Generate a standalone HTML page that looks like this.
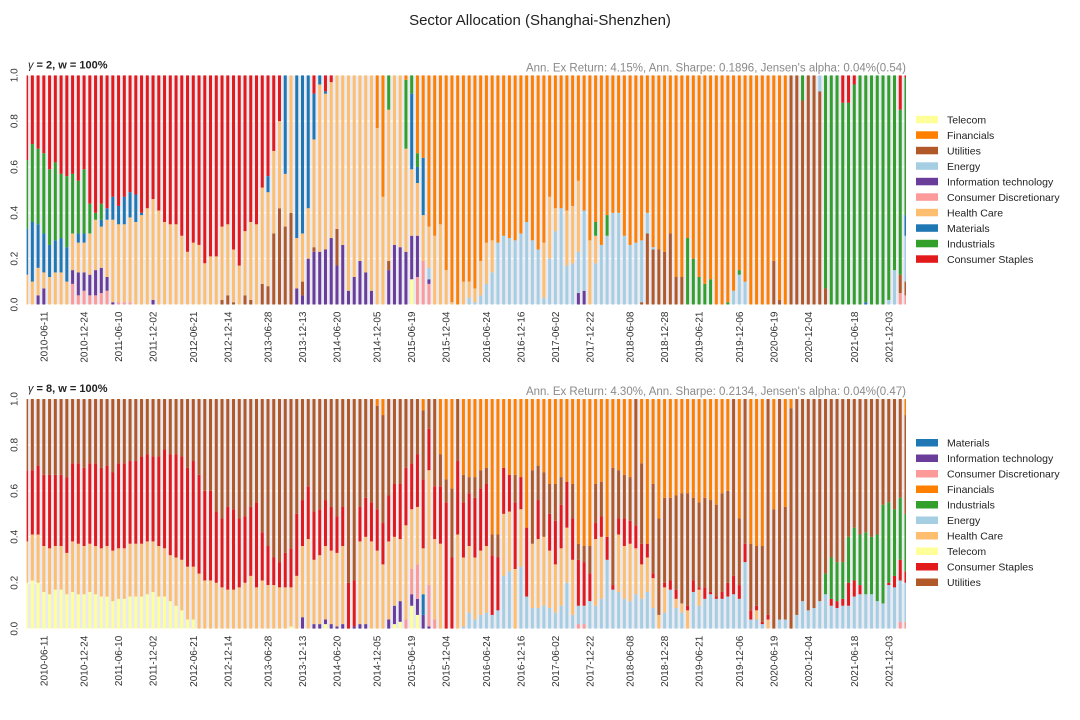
<!DOCTYPE html>
<html><head><meta charset="utf-8">
<style>
html,body{margin:0;padding:0;background:#fff;}
svg{display:block;font-family:"Liberation Sans",Arial,sans-serif;}
</style></head>
<body>
<svg id="fig" width="1080" height="720" viewBox="0 0 1080 720" xmlns="http://www.w3.org/2000/svg">
<text x="540" y="25" text-anchor="middle" font-size="15" fill="#222">Sector Allocation (Shanghai-Shenzhen)</text>
<g id="p1"></g>
<g id="p2"></g>
</svg>
<script>
// ---------- categories / ticks ----------
const tickIdx = [3,10,16,22,29,35,42,48,54,61,67,73,80,86,92,98,105,111,117,124,130,136,144,150];
const tickLabels = ["2010-06-11","2010-12-24","2011-06-10","2011-12-02","2012-06-21","2012-12-14","2013-06-28","2013-12-13","2014-06-20","2014-12-05","2015-06-19","2015-12-04","2016-06-24","2016-12-16","2017-06-02","2017-12-22","2018-06-08","2018-12-28","2019-06-21","2019-12-06","2020-06-19","2020-12-04","2021-06-18","2021-12-03"];
const yTicks = [0,0.2,0.4,0.6,0.8,1.0];
const yTickLabels = ["0.0","0.2","0.4","0.6","0.8","1.0"];
const sectorNames = ["Telecom","Financials","Utilities","Energy","Information technology","Consumer Discretionary","Health Care","Materials","Industrials","Consumer Staples"];
const sectorColors = ["#ffff99","#ff7f00","#b15928","#a6cee3","#6a3d9a","#fb9a99","#fdbf6f","#1f78b4","#33a02c","#e31a1c"];
const legend1 = ["Telecom","Financials","Utilities","Energy","Information technology","Consumer Discretionary","Health Care","Materials","Industrials","Consumer Staples"];
const legend2 = ["Materials","Information technology","Consumer Discretionary","Financials","Industrials","Energy","Health Care","Telecom","Consumer Staples","Utilities"];
const stack1 = ["Telecom","Consumer Discretionary","Information technology","Utilities","Energy","Health Care","Materials","Industrials","Consumer Staples","Financials"];
const stack2 = ["Telecom","Information technology","Consumer Discretionary","Materials","Energy","Health Care","Consumer Staples","Industrials","Utilities","Financials"];

// ---------- gamma = 2 weights (percent), 154 periods ----------
const g2_CS = [37,30,32,34,41,38,43,44,43,46, 41,56,60,56,58,53,57,53,51,52, 60,58,54,59,64,65,65,70,77,73, 74,82,79,79,66,65,76,83,68,64, 65,49,44,33,20,0,0,0,0,0, 8,0,7,3,0,0,0,0,0,0, 0,0,0,0,0,0,0,0,0,0, 0,0,0,0,0,0,0,0,0,0, 0,0,0,0,0,0,0,0,0,0, 0,0,0,0,0,0,0,0,0,0, 0,0,0,0,0,0,0,0,0,0, 0,0,0,0,0,0,0,0,0,0, 0,0,0,0,0,0,0,0,0,0, 0,0,0,0,0,0,0,0,0,0, 0,0,12,12,4,0,0,0,0,0, 0,0,15,1];
const g2_I = [30,34,33,35,33,34,28,31,26,23, 28,13,3,7,0,0,0,0,0,0, 0,0,0,0,0,0,0,0,0,0, 0,0,0,0,0,0,0,0,0,0, 0,0,0,0,0,0,0,0,0,0, 0,0,0,0,0,0,0,0,0,0, 0,0,0,15,0,0,30,8,6,0, 0,0,0,0,0,0,0,0,0,0, 0,0,0,0,0,0,0,0,0,0, 0,0,0,0,0,0,0,0,0,6, 0,9,0,0,0,0,0,0,0,0, 0,0,0,0,0,29,20,12,9,11, 0,0,1,0,2,0,0,0,0,0, 0,0,0,0,0,11,0,0,0,93, 100,100,88,88,96,100,99,100,100,100, 98,85,72,60];
const g2_M = [20,26,19,17,14,14,15,15,0,4, 4,0,0,3,5,10,8,12,11,12, 1,0,0,0,0,0,0,0,0,0, 0,0,0,0,0,0,0,0,0,0, 0,0,7,0,0,43,0,71,69,58, 20,4,1,0,0,0,0,0,0,0, 0,0,0,0,0,0,0,33,7,25, 0,0,0,0,0,0,0,0,0,0, 0,0,0,0,0,0,0,0,0,0, 0,0,0,0,0,0,0,0,0,0, 0,0,0,0,0,0,0,0,0,0, 0,0,0,0,0,0,0,0,0,0, 0,0,0,0,0,0,0,0,0,0, 0,0,0,0,0,0,0,0,0,0, 0,0,0,0,0,0,1,0,0,0, 0,0,0,9];
const g2_HC = [13,10,12,7,12,14,14,10,16,13, 13,18,22,18,25,36,34,34,37,36, 39,42,44,41,36,35,35,30,23,27, 26,18,21,21,32,31,23,17,28,34, 35,42,41,36,38,23,60,22,21,22, 47,73,68,68,67,74,94,88,81,86, 94,77,47,66,74,75,45,29,23,20, 18,30,35,15,1,0,10,7,6,15, 18,14,0,0,0,0,0,0,0,0, 24,27,10,0,24,25,31,0,28,12, 0,0,0,0,0,0,0,0,0,0, 0,0,0,0,0,0,0,0,0,0, 0,0,0,0,0,0,0,0,0,0, 0,0,0,0,0,0,0,0,0,0, 0,0,0,0,0,0,0,0,0,0, 0,0,0,0];
const g2_IT = [0,0,4,7,0,0,0,0,6,10, 8,9,11,11,6,1,0,0,0,0, 0,0,2,0,0,0,0,0,0,0, 0,0,0,0,0,0,0,0,0,0, 0,0,0,0,0,0,0,7,4,20, 23,23,24,29,17,26,6,12,19,14, 6,0,0,15,26,25,23,19,18,0, 2,0,0,0,0,0,0,0,0,0, 0,0,0,0,0,0,0,0,0,0, 0,0,0,0,0,0,5,6,0,0, 0,0,0,0,0,0,0,0,0,0, 0,0,0,0,0,0,0,0,0,0, 0,0,0,0,0,0,0,0,0,0, 0,0,0,0,0,0,0,0,0,0, 0,0,0,0,0,0,0,0,0,0, 0,0,0,0];
const g2_CD = [0,0,0,0,0,0,0,0,9,4, 6,4,4,5,6,0,1,1,1,0, 0,0,0,0,0,0,0,0,0,0, 0,0,0,0,0,0,0,0,0,0, 0,0,0,0,0,0,0,0,0,0, 0,0,0,0,0,0,0,0,0,0, 0,0,0,0,0,0,0,0,12,19, 9,0,0,0,0,0,0,0,0,0, 0,0,0,0,0,0,0,0,0,0, 0,0,0,0,0,0,0,0,0,0, 0,0,0,0,0,0,0,0,0,0, 0,0,0,0,0,0,0,0,0,0, 0,0,0,0,0,0,0,0,0,0, 0,0,0,0,0,0,0,0,0,0, 0,0,0,0,0,0,0,0,0,0, 0,0,5,4];
const g2_U = [0,0,0,0,0,0,0,0,0,0, 0,0,0,0,0,0,0,0,0,0, 0,0,0,0,0,0,0,0,0,0, 0,0,0,0,2,4,1,0,4,2, 0,9,8,31,42,34,40,0,6,0, 2,0,0,0,16,0,0,0,0,0, 0,0,0,4,0,0,0,0,0,0, 0,0,0,0,0,0,0,0,0,0, 0,0,0,0,0,0,0,0,0,0, 0,0,0,0,0,0,0,0,0,0, 0,0,0,0,0,0,0,1,31,24, 24,23,31,12,12,0,0,0,0,0, 0,0,0,0,0,0,0,0,0,0, 19,2,0,100,100,89,100,100,93,7, 0,0,0,0,0,0,0,0,0,0, 0,0,8,6];
const g2_E = [0,0,0,0,0,0,0,0,0,0, 0,0,0,0,0,0,0,0,0,0, 0,0,0,0,0,0,0,0,0,0, 0,0,0,0,0,0,0,0,0,0, 0,0,0,0,0,0,0,0,0,0, 0,0,0,0,0,0,0,0,0,0, 0,0,0,0,0,0,0,0,0,0, 5,0,0,0,0,0,0,3,1,4, 9,14,27,30,29,28,31,36,28,24, 3,20,32,42,17,18,18,35,0,18, 26,30,40,40,30,26,27,27,9,1, 0,0,0,0,0,0,0,0,0,0, 0,0,0,6,13,10,0,0,0,0, 0,0,0,0,0,0,0,0,7,0, 0,0,0,0,0,0,0,0,0,0, 2,15,0,20];
const g2_F = [0,0,0,0,0,0,0,0,0,0, 0,0,0,0,0,0,0,0,0,0, 0,0,0,0,0,0,0,0,0,0, 0,0,0,0,0,0,0,0,0,0, 0,0,0,0,0,0,0,0,0,0, 0,0,0,0,0,0,0,0,0,0, 0,23,53,0,0,0,2,0,34,36, 66,70,65,85,99,100,90,90,93,81, 73,72,73,70,71,72,69,64,72,76, 73,53,58,58,59,57,46,59,72,64, 74,61,60,60,70,74,73,72,60,75, 76,77,69,88,88,71,80,88,91,89, 100,100,99,94,85,90,100,100,100,100, 81,98,100,0,0,0,0,0,0,0, 0,0,0,0,0,0,0,0,0,0, 0,0,0,0];
const g2_T = [0,0,0,0,0,0,0,0,0,0, 0,0,0,0,0,0,0,0,0,0, 0,0,0,0,0,0,0,0,0,0, 0,0,0,0,0,0,0,0,0,0, 0,0,0,0,0,0,0,0,0,0, 0,0,0,0,0,0,0,0,0,0, 0,0,0,0,0,0,0,11,0,0, 0,0,0,0,0,0,0,0,0,0, 0,0,0,0,0,0,0,0,0,0, 0,0,0,0,0,0,0,0,0,0, 0,0,0,0,0,0,0,0,0,0, 0,0,0,0,0,0,0,0,0,0, 0,0,0,0,0,0,0,0,0,0, 0,0,0,0,0,0,0,0,0,0, 0,0,0,0,0,0,0,0,0,0, 0,0,0,0];

// ---------- gamma = 8 weights (percent), 154 periods ----------
const g8_CS = [31,28,30,31,32,31,31,33,34,35, 34,35,36,35,35,34,37,37,36,36, 38,38,37,39,43,44,45,45,43,46, 43,39,39,31,30,36,35,30,29,30, 37,21,17,12,11,15,17,27,20,23, 21,20,20,19,16,17,20,20,15,17, 17,18,18,20,23,24,25,20,23,30, 18,23,25,55,31,32,24,23,26,27, 27,26,23,20,16,29,14,30,0,17, 0,16,19,19,20,18,20,19,12,7, 9,10,2,7,12,10,10,9,6,2, 0,2,4,4,0,2,5,1,5,1, 1,3,6,8,6,8,4,2,1,2, 0,0,0,0,0,0,0,0,0,0, 3,3,3,10,7,4,0,0,0,0, 1,5,9,5];
const g8_U = [31,31,29,33,33,33,33,34,28,28, 30,28,28,30,29,32,28,28,27,27, 25,24,25,25,22,24,24,25,30,27, 33,40,40,49,52,47,48,52,51,47, 45,58,64,69,71,67,65,50,44,38, 49,48,44,47,51,47,80,79,47,43, 45,45,47,42,37,37,30,28,24,30, 13,38,14,10,30,27,12,7,9,8, 7,9,10,0,0,12,0,0,32,15, 28,13,16,12,0,15,7,7,12,17, 15,0,51,21,19,19,55,35,0,39, 42,37,36,41,48,49,36,37,39,40, 40,43,40,77,29,63,29,26,33,94, 52,96,49,96,94,88,92,91,88,76, 69,71,71,60,56,59,58,60,59,46, 45,48,43,43];
const g8_HC = [18,20,21,20,20,19,19,18,22,22, 21,21,21,21,22,22,22,22,23,23, 23,23,22,22,21,20,21,22,23,23, 24,21,21,20,18,17,17,18,20,23, 18,21,19,19,18,18,17,23,31,39, 28,30,32,32,32,34,0,0,36,38, 38,34,28,34,30,27,41,26,25,20, 50,35,37,0,0,41,30,29,27,28, 29,0,0,27,26,26,25,0,28,30, 30,25,21,25,24,24,0,0,0,29, 27,0,0,25,23,25,20,15,15,13, 6,11,0,4,4,8,0,7,0,0, 0,0,0,0,0,0,0,4,0,4, 0,0,0,0,0,0,0,0,0,0, 0,0,0,0,0,0,0,0,0,0, 0,0,0,0];
const g8_T = [20,21,20,16,15,17,17,15,16,15, 15,16,15,14,14,12,13,13,14,14, 14,15,16,14,14,12,10,8,4,4, 0,0,0,0,0,0,0,0,0,0, 0,0,0,0,0,0,1,0,0,0, 0,0,2,0,0,0,0,0,0,0, 0,0,0,0,2,3,0,10,6,0, 0,0,0,0,0,0,0,0,0,0, 0,0,0,0,0,0,0,0,0,0, 0,0,0,0,0,0,0,0,0,0, 0,0,0,0,0,0,0,0,0,0, 0,0,0,0,0,0,0,0,0,0, 0,0,0,0,0,0,0,0,0,0, 0,0,0,0,0,0,0,0,0,0, 0,0,0,0,0,0,0,0,0,0, 0,0,0,0];
const g8_IT = [0,0,0,0,0,0,0,0,0,0, 0,0,0,0,0,0,0,0,0,0, 0,0,0,0,0,0,0,0,0,0, 0,0,0,0,0,0,0,0,0,0, 0,0,0,0,0,0,0,0,5,0, 2,2,2,2,1,2,0,1,2,2, 0,0,0,4,8,9,0,5,7,6, 1,0,0,0,0,0,0,0,0,0, 0,0,0,0,0,0,0,0,0,0, 0,0,0,0,0,0,0,0,0,0, 0,0,0,0,0,0,0,0,0,0, 0,0,0,0,0,0,0,0,0,0, 0,0,0,0,0,0,0,0,0,0, 0,0,0,0,0,0,0,0,0,0, 0,0,0,0,0,0,0,0,0,0, 0,0,0,0];
const g8_CD = [0,0,0,0,0,0,0,0,0,0, 0,0,0,0,0,0,0,0,0,0, 0,0,0,0,0,0,0,0,0,0, 0,0,0,0,0,0,0,0,0,0, 0,0,0,0,0,0,0,0,0,0, 0,0,0,0,0,0,0,0,0,0, 0,0,0,0,0,0,4,11,15,0, 18,4,0,0,0,0,0,0,0,0, 0,0,0,0,0,0,0,0,0,0, 0,0,0,0,0,0,2,2,0,0, 0,0,0,0,0,0,0,0,0,0, 0,0,0,0,0,0,0,0,0,0, 0,0,0,0,0,0,0,0,0,0, 0,0,0,0,0,0,0,0,0,0, 0,0,0,0,0,0,0,0,0,0, 0,0,3,3];
const g8_M = [0,0,0,0,0,0,0,0,0,0, 0,0,0,0,0,0,0,0,0,0, 0,0,0,0,0,0,0,0,0,0, 0,0,0,0,0,0,0,0,0,0, 0,0,0,0,0,0,0,0,0,0, 0,0,0,0,0,0,0,0,0,0, 0,0,0,0,0,0,0,0,0,9, 0,0,0,0,0,0,0,0,0,0, 0,0,0,0,0,0,0,0,0,0, 0,0,0,0,0,0,0,0,0,0, 0,0,0,0,0,0,0,0,0,0, 0,0,0,0,0,0,0,0,0,0, 0,0,0,0,0,0,0,0,0,0, 0,0,0,0,0,0,0,0,0,0, 0,0,0,0,0,0,0,0,0,0, 0,0,0,0];
const g8_E = [0,0,0,0,0,0,0,0,0,0, 0,0,0,0,0,0,0,0,0,0, 0,0,0,0,0,0,0,0,0,0, 0,0,0,0,0,0,0,0,0,0, 0,0,0,0,0,0,0,0,0,0, 0,0,0,0,0,0,0,0,0,0, 0,0,0,0,0,0,0,0,0,0, 0,0,0,0,0,0,1,7,4,6, 7,6,8,23,25,0,27,14,9,9, 10,9,7,10,20,6,8,8,12,10, 13,30,17,16,13,12,15,13,16,9, 0,7,17,9,7,0,16,10,13,15, 13,13,14,15,13,29,4,4,2,0, 0,4,4,0,6,12,8,9,12,15, 10,9,10,10,14,15,15,15,12,11, 19,18,18,17];
const g8_F = [0,0,0,0,0,0,0,0,0,0, 0,0,0,0,0,0,0,0,0,0, 0,0,0,0,0,0,0,0,0,0, 0,0,0,0,0,0,0,0,0,0, 0,0,0,0,0,0,0,0,0,0, 0,0,0,0,0,0,0,0,0,0, 0,3,7,0,0,0,0,0,0,5, 0,0,24,35,39,0,34,34,34,31, 30,59,59,30,33,33,34,56,31,29, 32,37,37,34,36,37,63,64,64,37, 36,60,30,31,33,34,0,28,63,37, 52,43,43,42,41,41,43,45,43,45, 46,41,40,0,52,0,63,64,64,0, 48,0,47,4,0,0,0,0,0,0, 0,0,0,0,0,0,0,0,0,0, 0,0,0,7];
const g8_I = [0,0,0,0,0,0,0,0,0,0, 0,0,0,0,0,0,0,0,0,0, 0,0,0,0,0,0,0,0,0,0, 0,0,0,0,0,0,0,0,0,0, 0,0,0,0,0,0,0,0,0,0, 0,0,0,0,0,0,0,0,0,0, 0,0,0,0,0,0,0,0,0,0, 0,0,0,0,0,0,0,0,0,0, 0,0,0,0,0,0,0,0,0,0, 0,0,0,0,0,0,0,0,0,0, 0,0,0,0,0,0,0,0,0,0, 0,0,0,0,0,0,0,0,0,0, 0,0,0,0,0,0,0,0,0,0, 0,0,0,0,0,0,0,0,0,9, 18,17,16,20,23,22,27,25,29,43, 35,29,27,25];

const series1 = {"Telecom":g2_T,"Financials":g2_F,"Utilities":g2_U,"Energy":g2_E,"Information technology":g2_IT,"Consumer Discretionary":g2_CD,"Health Care":g2_HC,"Materials":g2_M,"Industrials":g2_I,"Consumer Staples":g2_CS};
const series2 = {"Telecom":g8_T,"Financials":g8_F,"Utilities":g8_U,"Energy":g8_E,"Information technology":g8_IT,"Consumer Discretionary":g8_CD,"Health Care":g8_HC,"Materials":g8_M,"Industrials":g8_I,"Consumer Staples":g8_CS};

const NS = "http://www.w3.org/2000/svg";
function mk(tag, attrs, parent){const e=document.createElementNS(NS,tag);for(const k in attrs)e.setAttribute(k,attrs[k]);parent.appendChild(e);return e;}
function colorOf(name){return sectorColors[sectorNames.indexOf(name)];}
function slug(s){return s.toLowerCase().replace(/[^a-z0-9]+/g,'-');}

function drawPanel(g, top, bottom, series, order, legendOrder, legendTop, subtitle, stats){
  const L=26.6, R=906;
  const N = series["Telecom"].length;
  const xS = k => L + k*(R-L)/(N-1);
  const yS = v => bottom - v*(bottom-top);
  const clipId = 'clip'+top;
  const defs = mk('defs',{},g);
  const cp = mk('clipPath',{id:clipId},defs);
  mk('rect',{x:L,y:top,width:R-L,height:bottom-top},cp);
  const bg = mk('rect',{x:L,y:top,width:R-L,height:bottom-top,fill:'#eaeaf2'},g);
  
  
  yTicks.forEach((v,i)=>{
    const ln = mk('line',{x1:L,x2:R,y1:yS(v),y2:yS(v),stroke:'#fff','stroke-width':1},g);
    
    
    const yy=yS(v);
    const t = mk('text',{x:0,y:0,transform:`translate(17.5,${yy}) rotate(-90)`,'text-anchor':'middle','font-size':10,fill:'#333'},g);
    t.textContent = yTickLabels[i];
    
    
  });
  const bars = mk('g',{'clip-path':`url(#${clipId})`},g);
  
  
  const bw = 3.0;
  for(let k=0;k<N;k++){
    let cum=0;
    order.forEach(name=>{
      const v = series[name][k]/100;
      if(v<=0) return;
      const y1=yS(cum+v), y0=yS(cum);
      const r = mk('rect',{x:xS(k)-bw/2,y:y1,width:bw,height:Math.max(0,y0-y1),fill:colorOf(name)},bars);
      
      
      cum+=v;
    });
  }
  tickIdx.forEach((k,i)=>{
    const xx = xS(k)+3.5;
    const t = mk('text',{x:0,y:0,transform:`translate(${xx},${bottom+7}) rotate(-90)`,'text-anchor':'end','font-size':10,fill:'#333'},g);
    t.textContent = tickLabels[i];
    
    
  });
  const st = mk('text',{x:28,y:top-7,'font-size':11,'font-weight':'bold',fill:'#222'},g);
  st.innerHTML = '<tspan font-style="italic" font-weight="normal">γ</tspan> = '+subtitle+', w = 100%';
  
  
  const ss = mk('text',{x:906,y:top-4,'text-anchor':'end','font-size':11.5,fill:'#8a8a8a'},g);
  ss.textContent = stats;
  
  
  const lg = mk('g',{},g);
  
  
  legendOrder.forEach((name,i)=>{
    const cy = legendTop + i*15.5;
    const it = mk('g',{},lg);
    
    
    mk('rect',{x:916,y:cy-3.5,width:22,height:7.5,fill:colorOf(name)},it);
    const t = mk('text',{x:947,y:cy+4,'font-size':10.5,fill:'#222'},it);
    t.textContent = name;
  });
}
drawPanel(document.getElementById('p1'),75.3,304.5,series1,stack1,legend1,119.3,'2',"Ann. Ex Return: 4.15%, Ann. Sharpe: 0.1896, Jensen's alpha: 0.04%(0.54)");
drawPanel(document.getElementById('p2'),399,628.7,series2,stack2,legend2,442.5,'8',"Ann. Ex Return: 4.30%, Ann. Sharpe: 0.2134, Jensen's alpha: 0.04%(0.47)");
</script>
</body></html>
